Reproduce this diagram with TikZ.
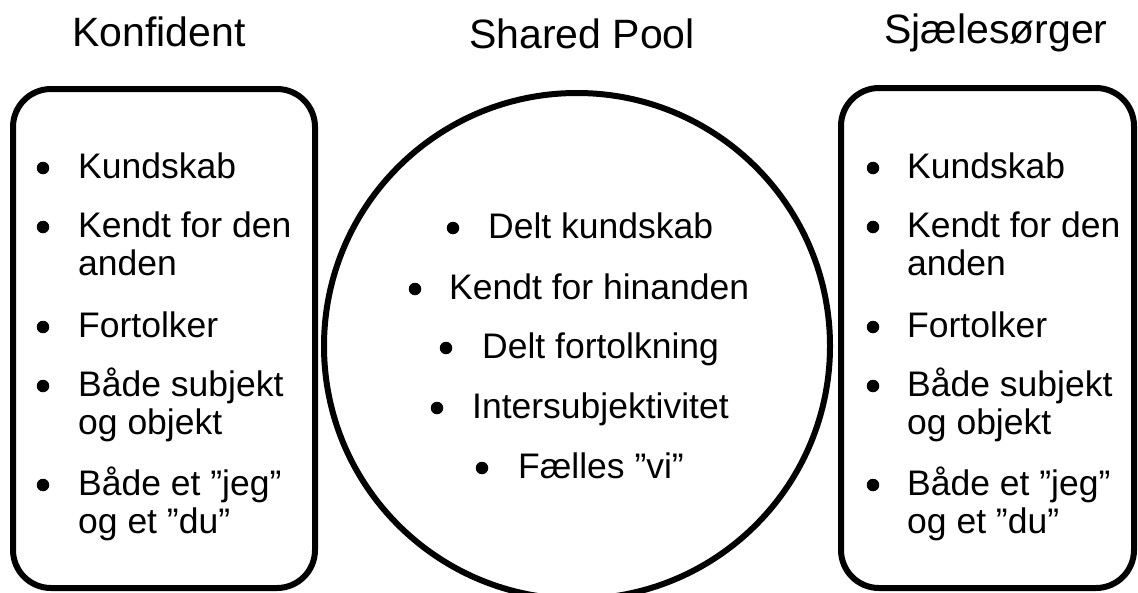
\documentclass[tikz,border=0pt]{standalone}
\usepackage{fontspec}
\setmainfont{Liberation Sans}
\begin{document}
\begin{tikzpicture}[x=1pt,y=-1pt,
  title/.style={anchor=base,inner sep=0pt,font=\fontsize{41}{48}\selectfont},
  item/.style={anchor=base west,inner sep=0pt,font=\fontsize{35.5}{38}\selectfont},
  bul/.style={circle,fill=black,inner sep=0pt,minimum size=12.5pt},
  frame/.style={draw=black,line width=6pt}]
\useasboundingbox (0,0) rectangle (1138,592);
\clip (0,0) rectangle (1138,592);
% titles
\node[title] (t1) at (159,46) {Konfident};
\node[title] (t2) at (582,48) {Shared Pool};
\node[title] (t3) at (996,43) {Sjælesørger};
% shapes
\draw[frame,rounded corners=38pt] (13,89) rectangle (315,588);
\draw[frame] (577,346) circle (253);
\draw[frame,rounded corners=38pt] (841,88) rectangle (1134,588);
% left box
\foreach \y/\n in {178/a1,237/a2,337/a3,396/a4,495/a5}{\node[bul] (lb\n) at (43,\y-10) {};}
\node[item] (l1) at (78,178) {Kundskab};
\node[item] (l2) at (78,237) {Kendt for den};
\node[item] (l2b) at (78,275) {anden};
\node[item] (l3) at (78,337) {Fortolker};
\node[item] (l4) at (78,396) {Både subjekt};
\node[item] (l4b) at (78,434) {og objekt};
\node[item] (l5) at (78,495) {Både et ”jeg”};
\node[item] (l5b) at (78,533) {og et ”du”};
% right box
\foreach \y/\n in {178/a1,237/a2,337/a3,396/a4,495/a5}{\node[bul] (rb\n) at (873,\y-10) {};}
\node[item] (r1) at (907,178) {Kundskab};
\node[item] (r2) at (907,237) {Kendt for den};
\node[item] (r2b) at (907,275) {anden};
\node[item] (r3) at (907,337) {Fortolker};
\node[item] (r4) at (907,396) {Både subjekt};
\node[item] (r4b) at (907,434) {og objekt};
\node[item] (r5) at (907,495) {Både et ”jeg”};
\node[item] (r5b) at (907,533) {og et ”du”};
% circle items
\node[bul] (cb1) at (453,228) {};
\node[item] (c1) at (488,238) {Delt kundskab};
\node[bul] (cb2) at (415,289) {};
\node[item] (c2) at (449,299) {Kendt for hinanden};
\node[bul] (cb3) at (446,348) {};
\node[item] (c3) at (482,358) {Delt fortolkning};
\node[bul] (cb4) at (437,408) {};
\node[item] (c4) at (472,418) {Intersubjektivitet};
\node[bul] (cb5) at (482,468) {};
\node[item] (c5) at (518,478) {Fælles ”vi”};
\end{tikzpicture}
\end{document}
